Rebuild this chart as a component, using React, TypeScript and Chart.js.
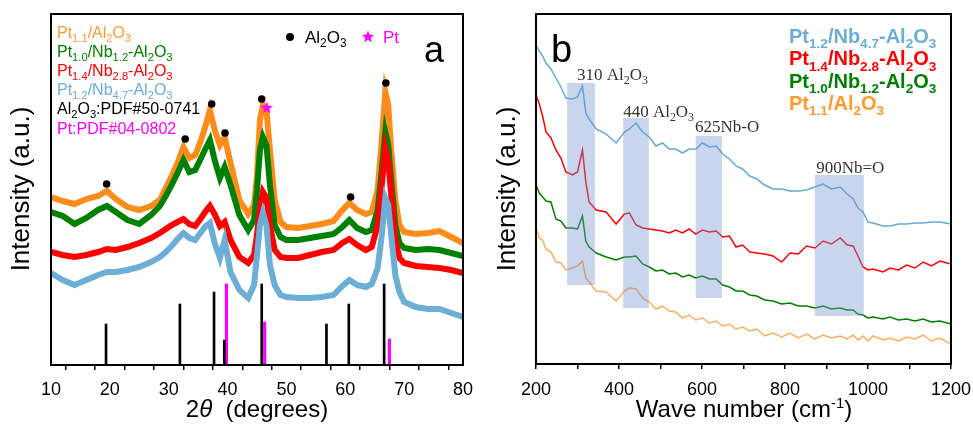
import React, { useEffect, useRef } from 'react';
import { Chart, registerables } from 'chart.js';
Chart.register(...registerables);

// ---------- Panel a: XRD ----------
const xrdAngles = [10, 12, 14, 16, 18, 19.5, 21, 23, 25, 27, 28.5, 29.5, 30.5, 31.5, 32.5, 33.5, 34.5, 35.5, 36.3, 37, 37.8, 38.7, 39.5, 40.5, 42, 43.5, 44.5, 45, 45.5, 46, 46.6, 47.2, 48, 49, 50, 52, 54, 56, 58, 59.5, 60.7, 62, 63.5, 64.5, 65.5, 66.2, 66.8, 67.3, 67.8, 68.5, 69.2, 70, 72, 74, 76, 78, 80];
const xrdPt11Al = [168, 164, 161, 166, 169, 174, 166, 158, 155, 159, 165, 177, 189, 202, 218, 207, 210, 225, 240, 255, 235, 220, 228, 202, 165, 151, 160, 190, 245, 260, 255, 215, 165, 143, 138, 137, 139, 141, 144, 155, 162, 155, 151, 153, 175, 225, 273, 260, 215, 165, 140, 133, 131, 132, 134, 128, 122];
const xrdPt10Nb12 = [153, 149, 141, 147, 155, 159, 153, 145, 141, 150, 159, 169, 180, 192, 205, 193, 195, 207, 217, 225, 205, 187, 198, 180, 150, 135, 145, 175, 215, 228, 220, 180, 140, 128, 125, 125, 127, 129, 131, 138, 145, 137, 133, 135, 155, 195, 233, 220, 185, 140, 122, 117, 115, 116, 115, 112, 109];
const xrdPt14Nb28 = [113, 110, 108, 110, 113, 116, 115, 118, 122, 127, 132, 136, 140, 143, 146, 141, 139, 147, 154, 159, 151, 139, 143, 125, 108, 102, 110, 130, 157, 173, 167, 140, 115, 108, 107, 107, 110, 113, 115, 122, 126, 120, 115, 118, 140, 180, 217, 205, 170, 125, 107, 102, 99, 98, 97, 95, 92];
const xrdPt12Nb47 = [92, 85, 80, 85, 90, 93, 93, 95, 98, 103, 108, 113, 119, 126, 132, 127, 125, 133, 139, 142, 122, 107, 125, 93, 75, 67, 80, 110, 140, 152, 140, 100, 80, 70, 68, 67, 67, 68, 70, 79, 85, 80, 78, 81, 97, 130, 167, 160, 130, 90, 73, 63, 58, 56, 56, 52, 48];
const xrdTickLabels = [10, 20, 30, 40, 50, 60, 70, 80];
const al2o3RefAngles = [19.35, 31.9, 37.7, 39.45, 45.8, 56.8, 60.6, 66.6];
const al2o3RefHeights = [41, 61, 73, 25, 81, 41, 61, 81];
const ptRefAngles = [39.8, 46.3, 67.5];
const ptRefHeights = [81, 43, 26];
const al2o3PeakAngles = [19.45, 32.8, 37.3, 39.56, 45.8, 60.9, 66.9];
const al2o3PeakMarks = [181, 226, 261, 232, 266, 168, 282];
const ptPeakAngles = [46.65];
const ptPeakMarks = [257];

// ---------- Panel b: Raman ----------
const ramanShift = [200, 208, 216, 224, 236, 248, 260, 272, 288, 300, 312, 320, 328, 345, 369, 393, 413, 425, 441, 457, 473, 489, 505, 521, 537, 553, 569, 585, 601, 618, 634, 650, 666, 682, 698, 715, 732, 751, 771, 792, 812, 832, 852, 872, 892, 912, 933, 950, 964, 976, 988, 1000, 1012, 1036, 1053, 1073, 1093, 1113, 1133, 1153, 1173, 1200];
const ramanPt12Nb47 = [319, 313, 308, 301, 295, 286, 277, 266, 265, 267, 278, 251, 245, 235, 230, 221, 232, 235, 241, 232, 227, 218, 221, 215, 215, 211, 215, 215, 221, 217, 218, 210, 205, 198, 195, 188, 185, 179, 175, 175, 173, 173, 174, 177, 180, 175, 177, 170, 165, 156, 152, 142, 141, 138, 138, 140, 140, 141, 141, 142, 142, 140];
const ramanPt14Nb28 = [269, 260, 248, 232, 226, 214, 206, 192, 189, 192, 214, 182, 162, 154, 152, 140, 150, 151, 139, 136, 135, 134, 133, 131, 134, 131, 135, 130, 134, 132, 133, 127, 128, 117, 119, 112, 111, 110, 108, 102, 111, 110, 118, 116, 123, 120, 126, 119, 118, 108, 97, 94, 95, 92, 96, 94, 99, 96, 102, 98, 103, 100];
const ramanPt10Nb12 = [179, 171, 167, 163, 162, 145, 143, 136, 136, 135, 148, 123, 117, 111, 107, 104, 107, 107, 108, 100, 97, 93, 94, 90, 91, 87, 89, 86, 88, 85, 85, 79, 77, 73, 73, 69, 68, 64, 63, 60, 61, 58, 58, 56, 58, 55, 56, 54, 54, 50, 49, 46, 47, 45, 47, 44, 45, 43, 45, 42, 43, 40];
const ramanPt11Al = [136, 126, 124, 115, 112, 102, 101, 94, 96, 98, 103, 86, 82, 73, 72, 63, 73, 76, 75, 66, 62, 55, 58, 53, 52, 46, 49, 44, 46, 41, 43, 38, 40, 35, 37, 33, 35, 28, 31, 27, 31, 26, 30, 25, 29, 26, 28, 25, 29, 24, 28, 23, 28, 24, 26, 23, 27, 25, 29, 23, 26, 20];
const ramanTickLabels = [200, 400, 600, 800, 1000, 1200];
const bandStart = [275, 410, 585, 872];
const bandEnd = [342, 472, 648, 990];
const bandTop = [281, 246, 228, 189];
const bandBottom = [79, 56, 66, 48];
const bandLabelShift = [299, 410, 583, 875];
const bandLabelLevel = [284, 247, 232, 191];
const bandLabels = ['310 Al_{2}O_{3}', '440 Al_{2}O_{3}', '625Nb-O', '900Nb=O'];

const SANS = '"Liberation Sans", Arial, sans-serif';
const SERIF = '"Liberation Serif", "Times New Roman", serif';

type Seg = { t: string; sub?: boolean; sup?: boolean; it?: boolean };
function parseRich(s: string): Seg[] {
  const out: Seg[] = [];
  let buf = '';
  let i = 0;
  while (i < s.length) {
    const c = s[i];
    if ((c === '_' || c === '^' || c === '*') && s[i + 1] === '{') {
      if (buf) { out.push({ t: buf }); buf = ''; }
      const end = s.indexOf('}', i);
      out.push({ t: s.slice(i + 2, end), sub: c === '_', sup: c === '^', it: c === '*' });
      i = end + 1;
    } else { buf += c; i++; }
  }
  if (buf) out.push({ t: buf });
  return out;
}
function richWidth(ctx: CanvasRenderingContext2D, s: string, size: number, fam: string, weight: string, subScale = 0.68) {
  let w = 0;
  for (const seg of parseRich(s)) {
    const fs = seg.sub || seg.sup ? size * subScale : size;
    ctx.font = `${seg.it ? 'italic ' : ''}${weight} ${fs}px ${fam}`;
    w += ctx.measureText(seg.t).width;
  }
  return w;
}
function drawRich(ctx: CanvasRenderingContext2D, s: string, x: number, y: number, size: number, fam: string, weight: string, color: string, subScale = 0.68) {
  let cx = x;
  ctx.fillStyle = color;
  ctx.textBaseline = 'alphabetic';
  ctx.textAlign = 'left';
  for (const seg of parseRich(s)) {
    const fs = seg.sub || seg.sup ? size * subScale : size;
    ctx.font = `${seg.it ? 'italic ' : ''}${weight} ${fs}px ${fam}`;
    const dy = seg.sub ? size * 0.26 : seg.sup ? -size * 0.36 : 0;
    ctx.fillText(seg.t, cx, y + dy);
    cx += ctx.measureText(seg.t).width;
  }
}
function drawStar(ctx: CanvasRenderingContext2D, cx: number, cy: number, ro: number, ri: number, color: string) {
  ctx.beginPath();
  for (let k = 0; k < 10; k++) {
    const r = k % 2 === 0 ? ro : ri;
    const a = -Math.PI / 2 + (k * Math.PI) / 5;
    const px = cx + r * Math.cos(a);
    const py = cy + r * Math.sin(a);
    if (k === 0) ctx.moveTo(px, py); else ctx.lineTo(px, py);
  }
  ctx.closePath();
  ctx.fillStyle = color;
  ctx.fill();
}
function drawVTitle(ctx: CanvasRenderingContext2D, text: string, cx: number, cy: number, size: number) {
  ctx.save();
  ctx.translate(cx, cy);
  ctx.rotate(-Math.PI / 2);
  ctx.font = `${size}px ${SANS}`;
  ctx.fillStyle = '#000';
  ctx.textAlign = 'center';
  ctx.textBaseline = 'middle';
  ctx.fillText(text, 0, 0);
  ctx.restore();
}
function drawFrameAndTicks(chart: Chart, tickValues: number[]) {
  const { ctx, chartArea: a } = chart;
  const xs = chart.scales.x;
  ctx.save();
  ctx.strokeStyle = '#000';
  ctx.lineWidth = 2;
  ctx.strokeRect(a.left, a.top, a.right - a.left, a.bottom - a.top);
  ctx.font = `18px ${SANS}`;
  ctx.fillStyle = '#000';
  ctx.textAlign = 'center';
  ctx.textBaseline = 'alphabetic';
  tickValues.forEach((v) => ctx.fillText(String(v), xs.getPixelForValue(v), 395));
  ctx.restore();
}

const ORANGE = '#ff8c1a';
const GREEN = '#008000';
const RED = '#ff0000';
const BLUE = '#6baed6';
const MAGENTA = '#ff00ff';

const leftDecor = {
  id: 'leftDecor',
  afterDraw(chart: Chart) {
    const ctx = chart.ctx;
    drawFrameAndTicks(chart, xrdTickLabels);
    ctx.save();
    const rows: [string, string][] = [
      ['Pt_{1.1}/Al_{2}O_{3}', '#ff9a33'],
      ['Pt_{1.0}/Nb_{1.2}-Al_{2}O_{3}', GREEN],
      ['Pt_{1.4}/Nb_{2.8}-Al_{2}O_{3}', RED],
      ['Pt_{1.2}/Nb_{4.7}-Al_{2}O_{3}', BLUE],
      ['Al_{2}O_{3}:PDF#50-0741', '#000'],
      ['Pt:PDF#04-0802', MAGENTA],
    ];
    rows.forEach(([t, c], i) => drawRich(ctx, t, 57, 37.5 + i * 19.2, 16, SANS, 'normal', c, 0.7));
    ctx.beginPath();
    ctx.arc(290, 37, 4, 0, Math.PI * 2);
    ctx.fillStyle = '#000';
    ctx.fill();
    drawRich(ctx, 'Al_{2}O_{3}', 305, 43, 17, SANS, 'normal', '#000', 0.7);
    drawStar(ctx, 368, 37, 6.5, 2.7, MAGENTA);
    drawRich(ctx, 'Pt', 383, 43, 17, SANS, 'normal', MAGENTA);
    ctx.font = `36px ${SANS}`;
    ctx.fillStyle = '#000';
    ctx.textAlign = 'left';
    ctx.textBaseline = 'alphabetic';
    ctx.fillText('a', 424, 62);
    drawVTitle(ctx, 'Intensity (a.u.)', 22, 189, 26);
    const t = '2*{θ}  (degrees)';
    const w = richWidth(ctx, t, 24, SANS, 'normal');
    drawRich(ctx, t, 257 - w / 2, 417, 24, SANS, 'normal', '#000');
    ctx.restore();
  },
};

const rightDecor = {
  id: 'rightDecor',
  afterDatasetsDraw(chart: Chart) {
    const ctx = chart.ctx;
    const xs = chart.scales.x;
    const ys = chart.scales.y;
    ctx.save();
    ctx.fillStyle = 'rgba(110,145,205,0.38)';
    bandStart.forEach((s, i) => {
      const x0 = xs.getPixelForValue(s);
      const x1 = xs.getPixelForValue(bandEnd[i]);
      const y0 = ys.getPixelForValue(bandTop[i]);
      const y1 = ys.getPixelForValue(bandBottom[i]);
      ctx.fillRect(x0, y0, x1 - x0, y1 - y0);
    });
    bandLabels.forEach((t, i) => {
      drawRich(ctx, t, xs.getPixelForValue(bandLabelShift[i]), ys.getPixelForValue(bandLabelLevel[i]), 17, SERIF, 'normal', '#333', 0.7);
    });
    ctx.restore();
  },
  afterDraw(chart: Chart) {
    const ctx = chart.ctx;
    drawFrameAndTicks(chart, ramanTickLabels);
    ctx.save();
    const rows: [string, string][] = [
      ['Pt_{1.2}/Nb_{4.7}-Al_{2}O_{3}', BLUE],
      ['Pt_{1.4}/Nb_{2.8}-Al_{2}O_{3}', RED],
      ['Pt_{1.0}/Nb_{1.2}-Al_{2}O_{3}', GREEN],
      ['Pt_{1.1}/Al_{2}O_{3}', '#ff9a2e'],
    ];
    rows.forEach(([t, c], i) => drawRich(ctx, t, 299, 43 + i * 22.3, 20, SANS, 'bold', c, 0.68));
    ctx.font = `38px ${SANS}`;
    ctx.fillStyle = '#000';
    ctx.textAlign = 'left';
    ctx.textBaseline = 'alphabetic';
    ctx.fillText('b', 61, 62);
    drawVTitle(ctx, 'Intensity (a.u.)', 18, 189, 26);
    const t = 'Wave number (cm^{-1})';
    const w = richWidth(ctx, t, 24, SANS, 'normal', 0.62);
    drawRich(ctx, t, 254 - w / 2, 417, 24, SANS, 'normal', '#000', 0.62);
    ctx.restore();
  },
};

function pts(xs: number[], ys: number[]) {
  return xs.map((x, i) => ({ x, y: ys[i] }));
}

function xAxis(min: number, max: number, step: number, h: number) {
  return {
    type: 'linear' as const,
    min,
    max,
    offset: false,
    afterFit: (s: any) => { s.height = h; },
    ticks: { stepSize: step, autoSkip: false, maxRotation: 0, display: false },
    grid: { drawOnChartArea: false, drawTicks: true, tickLength: 5, color: '#000', lineWidth: 1.5 },
    border: { display: false },
  };
}

export default function App() {
  const leftRef = useRef<HTMLCanvasElement>(null);
  const rightRef = useRef<HTMLCanvasElement>(null);

  useEffect(() => {
    const starImg = document.createElement('canvas');
    starImg.width = 14;
    starImg.height = 14;
    drawStar(starImg.getContext('2d')!, 7, 7, 6.5, 2.7, MAGENTA);

    const lineDs = (label: string, ys: number[], color: string, order: number, bw: number, xs: number[]) => ({
      type: 'line' as const,
      label,
      data: pts(xs, ys),
      borderColor: color,
      backgroundColor: color,
      borderWidth: bw,
      pointRadius: 0,
      tension: 0,
      order,
    });

    const left = new Chart(leftRef.current!, {
      type: 'line',
      data: {
        datasets: [
          { type: 'scatter', data: pts(al2o3PeakAngles, al2o3PeakMarks), pointRadius: 3.8, pointBackgroundColor: '#000', pointBorderWidth: 0, order: 0 } as any,
          { type: 'scatter', data: pts(ptPeakAngles, ptPeakMarks), pointStyle: starImg, pointRadius: 7, order: 0 } as any,
          lineDs('Pt1.2/Nb4.7-Al2O3', xrdPt12Nb47, BLUE, 1, 6, xrdAngles),
          lineDs('Pt1.4/Nb2.8-Al2O3', xrdPt14Nb28, RED, 2, 6, xrdAngles),
          lineDs('Pt1.0/Nb1.2-Al2O3', xrdPt10Nb12, GREEN, 3, 6, xrdAngles),
          lineDs('Pt1.1/Al2O3', xrdPt11Al, ORANGE, 4, 6, xrdAngles),
          { type: 'bar', data: pts(al2o3RefAngles, al2o3RefHeights), backgroundColor: '#000', barThickness: 2, grouped: false, order: 0 } as any,
          { type: 'bar', data: pts(ptRefAngles, ptRefHeights), backgroundColor: MAGENTA, barThickness: 2.5, grouped: false, order: 0 } as any,
        ],
      },
      options: {
        animation: false,
        responsive: false,
        layout: { padding: { left: 51, right: 17, top: 14, bottom: 0 } },
        plugins: { legend: { display: false }, tooltip: { enabled: false } },
        scales: {
          x: xAxis(10, 80, 5, 60) as any,
          y: { display: false, min: 0, max: 351 },
        },
      },
      plugins: [leftDecor as any],
    });

    const right = new Chart(rightRef.current!, {
      type: 'line',
      data: {
        datasets: [
          lineDs('Pt1.2/Nb4.7-Al2O3', ramanPt12Nb47, '#64a9d8', 1, 1.5, ramanShift),
          lineDs('Pt1.4/Nb2.8-Al2O3', ramanPt14Nb28, RED, 2, 1.5, ramanShift),
          lineDs('Pt1.0/Nb1.2-Al2O3', ramanPt10Nb12, GREEN, 3, 1.5, ramanShift),
          lineDs('Pt1.1/Al2O3', ramanPt11Al, '#ffad5c', 4, 1.5, ramanShift),
        ],
      },
      options: {
        animation: false,
        responsive: false,
        layout: { padding: { left: 46, right: 22, top: 14, bottom: 0 } },
        plugins: { legend: { display: false }, tooltip: { enabled: false } },
        scales: {
          x: xAxis(200, 1200, 100, 61) as any,
          y: { display: false, min: 0, max: 350 },
        },
      },
      plugins: [rightDecor as any],
    });

    return () => {
      left.destroy();
      right.destroy();
    };
  }, []);

  return (
    <div style={{ position: 'fixed', left: 0, top: 0, width: 973, height: 425, background: '#fff' }}>
      <canvas ref={leftRef} width={480} height={425} style={{ position: 'absolute', left: 0, top: 0 }} />
      <canvas ref={rightRef} width={483} height={425} style={{ position: 'absolute', left: 490, top: 0 }} />
    </div>
  );
}
